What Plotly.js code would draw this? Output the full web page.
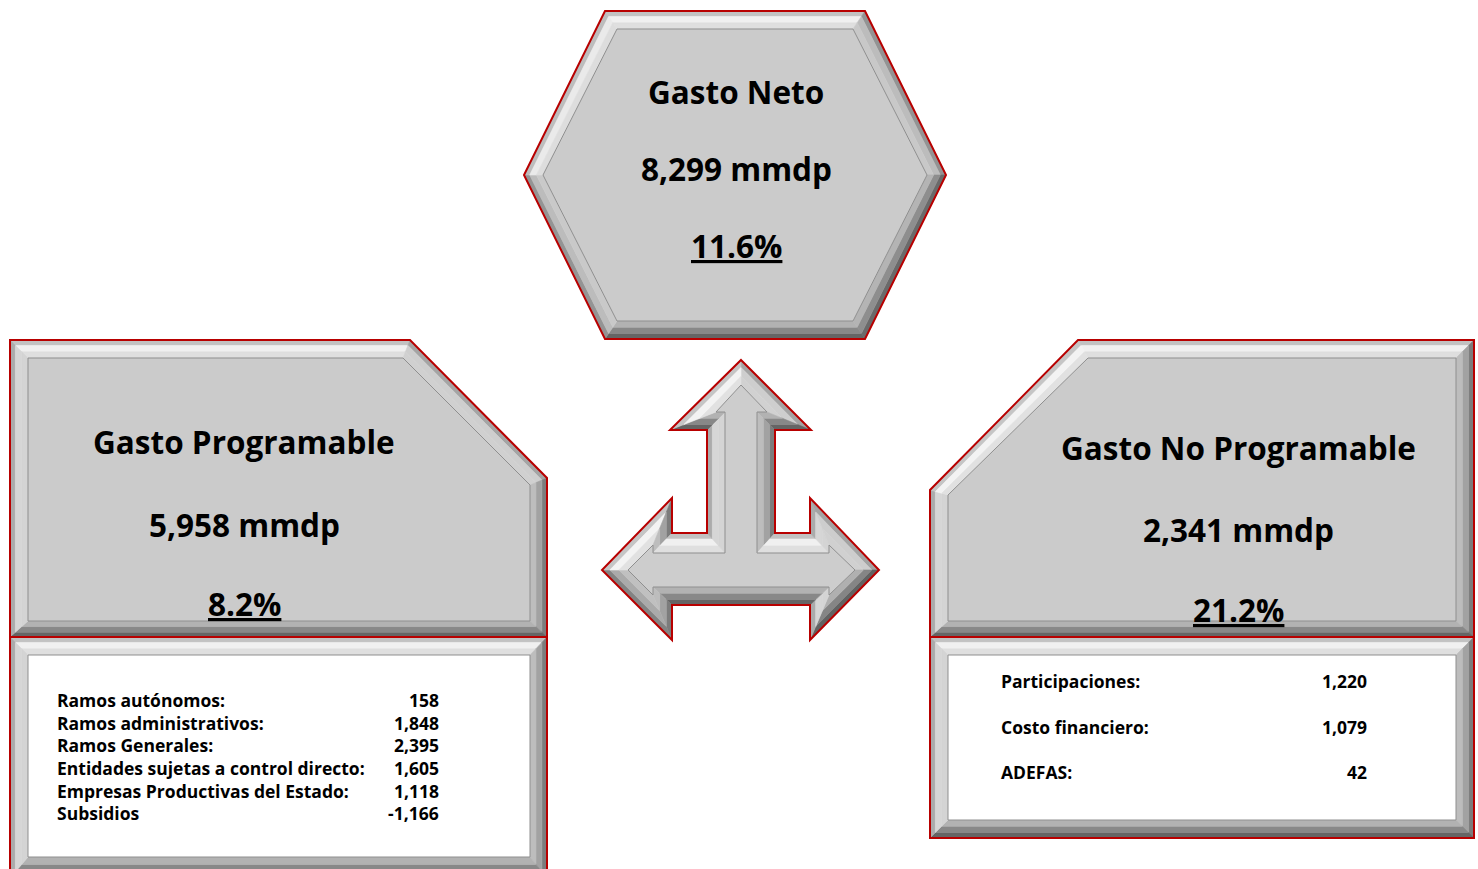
<!DOCTYPE html>
<html><head><meta charset="utf-8">
<script src="https://cdn.plot.ly/plotly-3.0.1.min.js"></script>
<style>html,body{margin:0;padding:0;background:#fff;overflow:hidden}#chart{width:1478px;height:869px}</style>
</head><body><div id="chart"></div>
<script>
// ---------- data ----------
const summaryTitles = ["Gasto Neto", "Gasto Programable", "Gasto No Programable"];
const summaryAmounts = [8299, 5958, 2341];   // mmdp
const summaryGrowth = [11.6, 8.2, 21.2];     // %
const progLabels = ["Ramos autónomos:", "Ramos administrativos:", "Ramos Generales:",
  "Entidades sujetas a control directo:", "Empresas Productivas del Estado:", "Subsidios"];
const progValues = [158, 1848, 2395, 1605, 1118, -1166];
const noProgLabels = ["Participaciones:", "Costo financiero:", "ADEFAS:"];
const noProgValues = [1220, 1079, 42];

// ---------- geometry (layout of the decorative panels) ----------
const W = 1478, H = 869;
const panels = [
  { // left white box
    outer: [[10,637],[547,637],[547,878],[10,878]],
    inner: [[28,655],[530,655],[530,857],[28,857]], face: '#ffffff' },
  { // right white box
    outer: [[930,637],[1474,637],[1474,838],[930,838]],
    inner: [[948,655],[1456,655],[1456,820],[948,820]], face: '#ffffff' },
  { // hexagon
    outer: [[605,11],[865,11],[946,175],[865,339],[605,339],[524,175]],
    inner: [[617,29],[853,29],[927,175],[853,321],[617,321],[543,175]], face: '#cbcbcb' },
  { // left gray
    outer: [[10,340],[410,340],[547,478],[547,637],[10,637]],
    inner: [[28,358],[403,358],[530,485],[530,621],[28,621]], face: '#cbcbcb' },
  { // right gray
    outer: [[1078,340],[1474,340],[1474,637],[930,637],[930,490]],
    inner: [[1088,358],[1456,358],[1456,621],[948,621],[948,495]], face: '#cbcbcb' },
  { // arrow
    outer: [[741,360],[811,430],[775,430],[775,533],[810,533],[810,498],[879,570],[810,640],[810,605],
            [672,605],[672,640],[602,570],[672,498],[672,533],[707,533],[707,430],[670,430]],
    inner: [[741,385],[767,412],[757,412],[757,553],[829,553],[829,545],[855,570],[829,595],[829,587],
            [653,587],[653,595],[628,570],[653,545],[653,553],[725,553],[725,412],[716,412]], face: '#cdcdcd' }
];

const bandT = [0, 0.3, 0.65, 1];
const lightBand = [200, 246, 226];
const darkBand = [95, 130, 175];
const Lx = -0.5 / Math.hypot(0.5, 1), Ly = -1 / Math.hypot(0.5, 1);

function lerpPt(a, b, t) { return [a[0] + (b[0] - a[0]) * t, a[1] + (b[1] - a[1]) * t]; }
function pathOf(pts) { return 'M' + pts.map(p => p[0].toFixed(1) + ',' + p[1].toFixed(1)).join('L') + 'Z'; }
function grey(v) { v = Math.round(v); return 'rgb(' + v + ',' + v + ',' + v + ')'; }

const shapes = [];
panels.forEach(p => {
  const n = p.outer.length;
  for (let i = 0; i < n; i++) {
    const j = (i + 1) % n;
    const a = p.outer[i], b = p.outer[j];
    const dx = b[0] - a[0], dy = b[1] - a[1], len = Math.hypot(dx, dy);
    const nx = dy / len, ny = -dx / len;
    const f = ((nx * Lx + ny * Ly) + 1) / 2;
    for (let k = 0; k < 3; k++) {
      const q = [lerpPt(p.outer[i], p.inner[i], bandT[k]), lerpPt(p.outer[j], p.inner[j], bandT[k]),
                 lerpPt(p.outer[j], p.inner[j], bandT[k + 1]), lerpPt(p.outer[i], p.inner[i], bandT[k + 1])];
      const c = grey(darkBand[k] + f * (lightBand[k] - darkBand[k]));
      shapes.push({ type: 'path', xref: 'x', yref: 'y', path: pathOf(q), fillcolor: c, line: { color: c, width: 0.6 } });
    }
  }
  shapes.push({ type: 'path', xref: 'x', yref: 'y', path: pathOf(p.inner), fillcolor: p.face,
    line: { color: '#8f8f8f', width: 1 } });
  shapes.push({ type: 'path', xref: 'x', yref: 'y', path: pathOf(p.outer), fillcolor: 'rgba(0,0,0,0)',
    line: { color: '#b80000', width: 2 } });
});

// ---------- text ----------
const fmt = v => v.toLocaleString('en-US');
const FONT = '"Open Sans", Lato, sans-serif';
const annotations = [];
function txt(x, y, text, size, anchor) {
  annotations.push({ xref: 'x', yref: 'y', x: x, y: y, text: text, showarrow: false,
    xanchor: anchor || 'center', yanchor: 'middle', font: { family: FONT, size: size, color: '#000' } });
}
const centers = [[736, [91, 168, 245]], [244, [441, 524, 603]], [1238, [447, 529, 609]]];
centers.forEach((c, i) => {
  txt(c[0], c[1][0], '<b>' + summaryTitles[i] + '</b>', 31.5);
  txt(c[0], c[1][1], '<b>' + fmt(summaryAmounts[i]) + ' mmdp</b>', 31.5);
  txt(c[0], c[1][2], '<b><u>' + summaryGrowth[i].toFixed(1) + '%</u></b>', 31.5);
});
const progY = [700, 723, 745, 768, 791, 813];
progLabels.forEach((l, i) => {
  txt(55, progY[i], '<b>' + l + '</b>', 17.5, 'left');
  txt(441, progY[i], '<b>' + fmt(progValues[i]) + '</b>', 17.5, 'right');
});
const noProgY = [681, 727, 772];
noProgLabels.forEach((l, i) => {
  txt(999, noProgY[i], '<b>' + l + '</b>', 17.5, 'left');
  txt(1369, noProgY[i], '<b>' + fmt(noProgValues[i]) + '</b>', 17.5, 'right');
});

Plotly.newPlot('chart', [], {
  width: W, height: H, margin: { l: 0, r: 0, t: 0, b: 0 },
  paper_bgcolor: '#ffffff', plot_bgcolor: '#ffffff', showlegend: false,
  xaxis: { range: [0, W], visible: false, fixedrange: true },
  yaxis: { range: [H, 0], visible: false, fixedrange: true },
  shapes: shapes, annotations: annotations
}, { staticPlot: true, displayModeBar: false });
</script></body></html>
